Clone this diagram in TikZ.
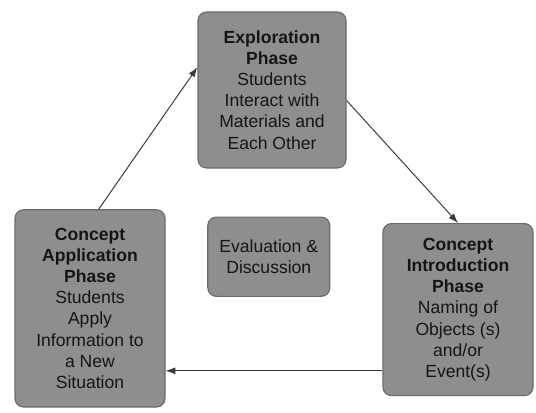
\documentclass[tikz,border=0pt]{standalone}
\usepackage{fontspec}
\setmainfont{Liberation Sans}
\usetikzlibrary{arrows.meta, positioning}
\definecolor{phasefill}{HTML}{8E8E8E}
\definecolor{phaseedge}{HTML}{6A6A6A}
\definecolor{ink}{HTML}{151515}
\definecolor{linkcol}{HTML}{3A3A3A}

\begin{document}
\begin{tikzpicture}[
    phase/.style={draw=phaseedge, fill=phasefill, rounded corners=6pt,
                  align=center, text=ink, line width=0.8pt,
                  font=\fontsize{12.5}{15}\selectfont, inner sep=2pt},
    link/.style={draw=linkcol, line width=0.7pt, -{Latex[length=7pt, width=5pt]}}
  ]
  \useasboundingbox (0,0) rectangle (13.4,10.3);

  \node[phase, minimum width=3.7cm, minimum height=3.9cm] (explore) at (6.8,8.05)
    {\textbf{Exploration}\\ \textbf{Phase}\\ Students\\ Interact with\\ Materials and\\ Each Other};
  \node[phase, minimum width=3.75cm, minimum height=4.3cm] (intro) at (11.45,2.56)
    {\textbf{Concept}\\ \textbf{Introduction}\\ \textbf{Phase}\\ Naming of\\ Objects (s)\\ and/or\\ Event(s)};
  \node[phase, minimum width=3.75cm, minimum height=4.93cm] (apply) at (2.25,2.59)
    {\textbf{Concept}\\ \textbf{Application}\\ \textbf{Phase}\\ Students\\ Apply\\ Information to\\ a New\\ Situation};
  \node[phase, minimum width=3.05cm, minimum height=1.98cm, below=1.2cm of explore,
        xshift=-0.08cm] (evaluate) {Evaluation \&\\ Discussion};

  \draw[link] (apply.85) -- (explore.163);
  \draw[link] (explore.352) -- (intro.north);
  \draw[link] (intro.219) -- (apply.east |- intro.219);
\end{tikzpicture}
\end{document}
